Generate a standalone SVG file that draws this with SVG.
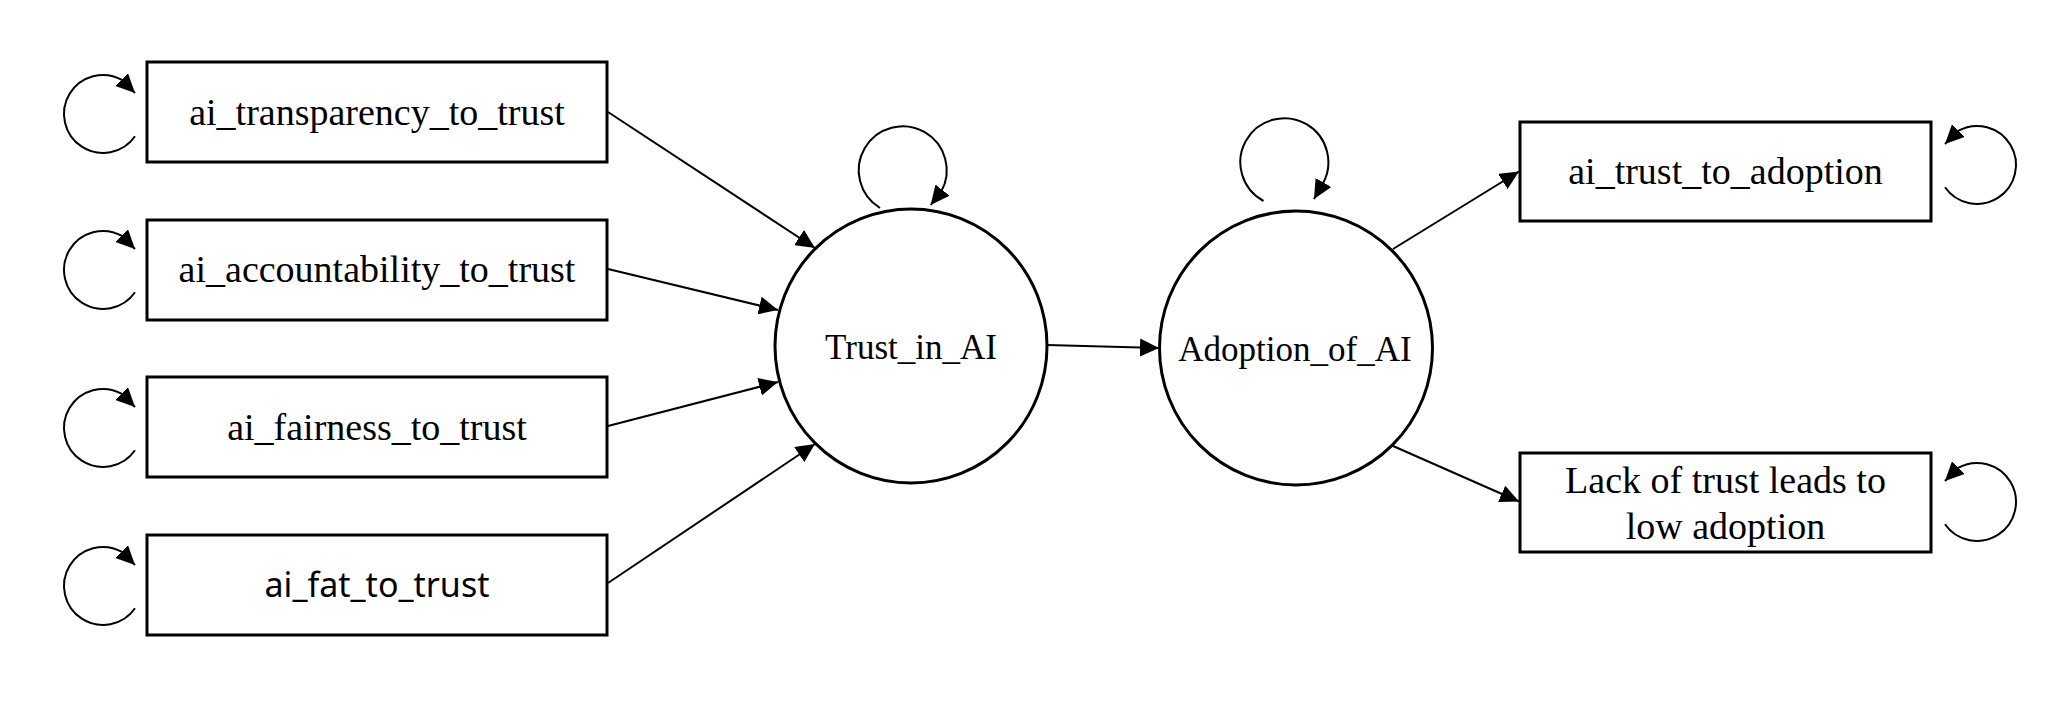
<svg xmlns="http://www.w3.org/2000/svg" width="2064" height="702" viewBox="0 0 2064 702">
<style>
.box{fill:#fff;stroke:#000;stroke-width:3}
.ell{fill:#fff;stroke:#000;stroke-width:3}
.edge{fill:none;stroke:#000;stroke-width:2;marker-end:url(#arr)}
.t{font-family:"Liberation Serif","Times New Roman",serif;font-size:38px;text-anchor:middle;fill:#000}
.tc{font-family:"Liberation Serif","Times New Roman",serif;font-size:35px;text-anchor:middle;fill:#000}
.ts{font-family:"Noto Sans","Open Sans",sans-serif;font-size:34px;text-anchor:middle;fill:#000}
</style>
<defs>
<marker id="arr" markerUnits="userSpaceOnUse" markerWidth="19" markerHeight="18" refX="19" refY="9" orient="auto">
<path d="M0,0 L19,9 L0,18 z" fill="#000"/>
</marker>
</defs>
<rect width="2064" height="702" fill="#fff"/>
<g id="connectors">
<line class="edge" x1="608" y1="112" x2="815" y2="248"/>
<line class="edge" x1="608" y1="269" x2="778" y2="310"/>
<line class="edge" x1="608" y1="426" x2="778" y2="382"/>
<line class="edge" x1="608" y1="583" x2="815" y2="444"/>
<line class="edge" x1="1047" y1="345" x2="1159" y2="348"/>
<line class="edge" x1="1393" y1="249" x2="1519" y2="171.5"/>
<line class="edge" x1="1393" y1="446" x2="1519" y2="501.5"/>
<path class="edge" d="M135 136.3 A39 39 0 1 1 122 79.9 L135 93"/>
<path class="edge" d="M135 292.3 A39 39 0 1 1 122 235.9 L135 249"/>
<path class="edge" d="M135 450.3 A39 39 0 1 1 122 393.9 L135 407"/>
<path class="edge" d="M135 608.3 A39 39 0 1 1 122 551.9 L135 565"/>
<path class="edge" d="M880 208 A44 44 0 1 1 941 192 L930.7 205"/>
<path class="edge" d="M1263.5 201 A44 44 0 1 1 1322 185 L1314 199"/>
<path class="edge" d="M1945 187.3 A39 39 0 1 0 1958 130.9 L1945 144"/>
<path class="edge" d="M1945 524.3 A39 39 0 1 0 1958 467.9 L1945 481"/>
</g>
<g id="ai_transparency_to_trust">
<rect class="box" x="147" y="62" width="460" height="100"/>
<text class="t" x="377" y="125">ai_transparency_to_trust</text>
</g>
<g id="ai_accountability_to_trust">
<rect class="box" x="147" y="220" width="460" height="100"/>
<text class="t" x="377" y="282">ai_accountability_to_trust</text>
</g>
<g id="ai_fairness_to_trust">
<rect class="box" x="147" y="377" width="460" height="100"/>
<text class="t" x="377" y="440">ai_fairness_to_trust</text>
</g>
<g id="ai_fat_to_trust">
<rect class="box" x="147" y="535" width="460" height="100"/>
<text class="ts" x="377" y="597">ai_fat_to_trust</text>
</g>
<g id="Trust_in_AI">
<ellipse class="ell" cx="911" cy="346" rx="136" ry="137"/>
<text class="tc" x="911" y="359">Trust_in_AI</text>
</g>
<g id="Adoption_of_AI">
<ellipse class="ell" cx="1296" cy="348" rx="136.5" ry="137"/>
<text class="tc" x="1295" y="361">Adoption_of_AI</text>
</g>
<g id="ai_trust_to_adoption">
<rect class="box" x="1520" y="122" width="411" height="99"/>
<text class="t" x="1725.5" y="183.5">ai_trust_to_adoption</text>
</g>
<g id="lack_of_trust">
<rect class="box" x="1520" y="453" width="411" height="99"/>
<text class="t" x="1725.5" y="493">Lack of trust leads to</text>
<text class="t" x="1725.5" y="539">low adoption</text>
</g>
</svg>
